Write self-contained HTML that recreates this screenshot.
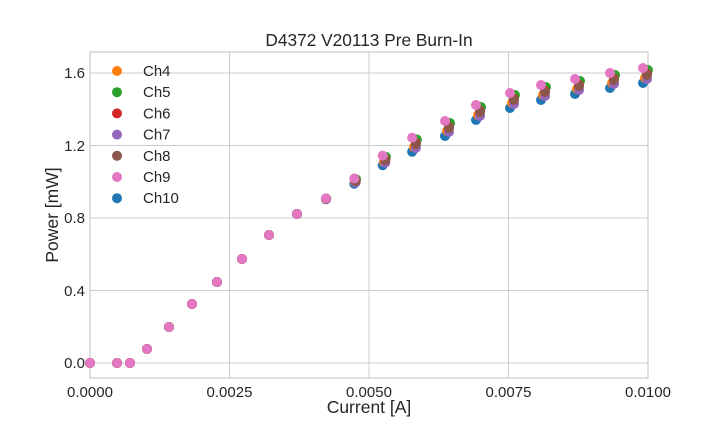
<!DOCTYPE html>
<html><head><meta charset="utf-8"><style>
body{margin:0;background:#fff;}
svg{display:block;font-family:"Liberation Sans",sans-serif;}
</style></head><body>
<svg id="s" width="720" height="432" xmlns="http://www.w3.org/2000/svg">
<rect width="720" height="432" fill="#fff"/>
<g stroke="#cccccc" stroke-width="1">
<line x1="229.5" y1="52" x2="229.5" y2="378"/>
<line x1="369" y1="52" x2="369" y2="378"/>
<line x1="508.5" y1="52" x2="508.5" y2="378"/>
<line x1="90" y1="363" x2="648" y2="363"/>
<line x1="90" y1="290.5" x2="648" y2="290.5"/>
<line x1="90" y1="218" x2="648" y2="218"/>
<line x1="90" y1="145.5" x2="648" y2="145.5"/>
<line x1="90" y1="73" x2="648" y2="73"/>
</g>
<rect x="90" y="52" width="558" height="326" fill="none" stroke="#cccccc" stroke-width="1.2"/>
<g id="pts"></g>
<g font-size="15" fill="#262626">
<text x="85" y="368" text-anchor="end">0.0</text>
<text x="85" y="296" text-anchor="end">0.4</text>
<text x="85" y="223" text-anchor="end">0.8</text>
<text x="85" y="151" text-anchor="end">1.2</text>
<text x="85" y="78" text-anchor="end">1.6</text>
<text x="90" y="397" text-anchor="middle">0.0000</text>
<text x="229.5" y="397" text-anchor="middle">0.0025</text>
<text x="369" y="397" text-anchor="middle">0.0050</text>
<text x="508.5" y="397" text-anchor="middle">0.0075</text>
<text x="648" y="397" text-anchor="middle">0.0100</text>
</g>
<text x="369" y="46" font-size="17.3" text-anchor="middle" fill="#262626">D4372 V20113 Pre Burn-In</text>
<text x="369" y="413" font-size="17.5" text-anchor="middle" fill="#262626">Current [A]</text>
<text x="58" y="215" font-size="17.5" text-anchor="middle" fill="#262626" transform="rotate(-90 58 215)">Power [mW]</text>
<g id="leg" font-size="15" fill="#262626"></g>
</svg>
<script>
var cols=["#ff7f0e","#2ca02c","#d62728","#9467bd","#8c564b","#e377c2","#1f77b4"];
var names=["Ch4","Ch5","Ch6","Ch7","Ch8","Ch9","Ch10"];
var off=[0,-8,-4,1,-3,-10,5];
var dx=[0,3,2,2,2,-2,-2];
var order=[6,0,1,2,3,4,5];
var base=[[90,363],[117,363],[130,363],[147,349],[169,327],[192,304],[217,282],[242,259],[269,235],[297,214],[326,199],[355,182],[384,162],[414,147],[447,131],[478,115],[512,103],[543,95],[577,89],[612,83],[645,78]];
var g=document.getElementById('pts'),h='';
for(var k=0;k<7;k++){var c=order[k];for(var i=0;i<base.length;i++){var x=base[i][0],y=base[i][1];var f=Math.min(1,Math.max(0,(x-320)/100));var o=off[c]*f;var d=i>2?dx[c]*f:0;h+='<circle cx="'+(x+d)+'" cy="'+(y+o)+'" r="5" fill="'+cols[c]+'"/>';}}
g.innerHTML=h;
var l='';for(var c=0;c<7;c++){var y=71+c*21.2;l+='<circle cx="117" cy="'+y+'" r="5" fill="'+cols[c]+'"/><text x="143" y="'+(y+5)+'">'+names[c]+'</text>';}
document.getElementById('leg').innerHTML=l;
</script>
</body></html>
